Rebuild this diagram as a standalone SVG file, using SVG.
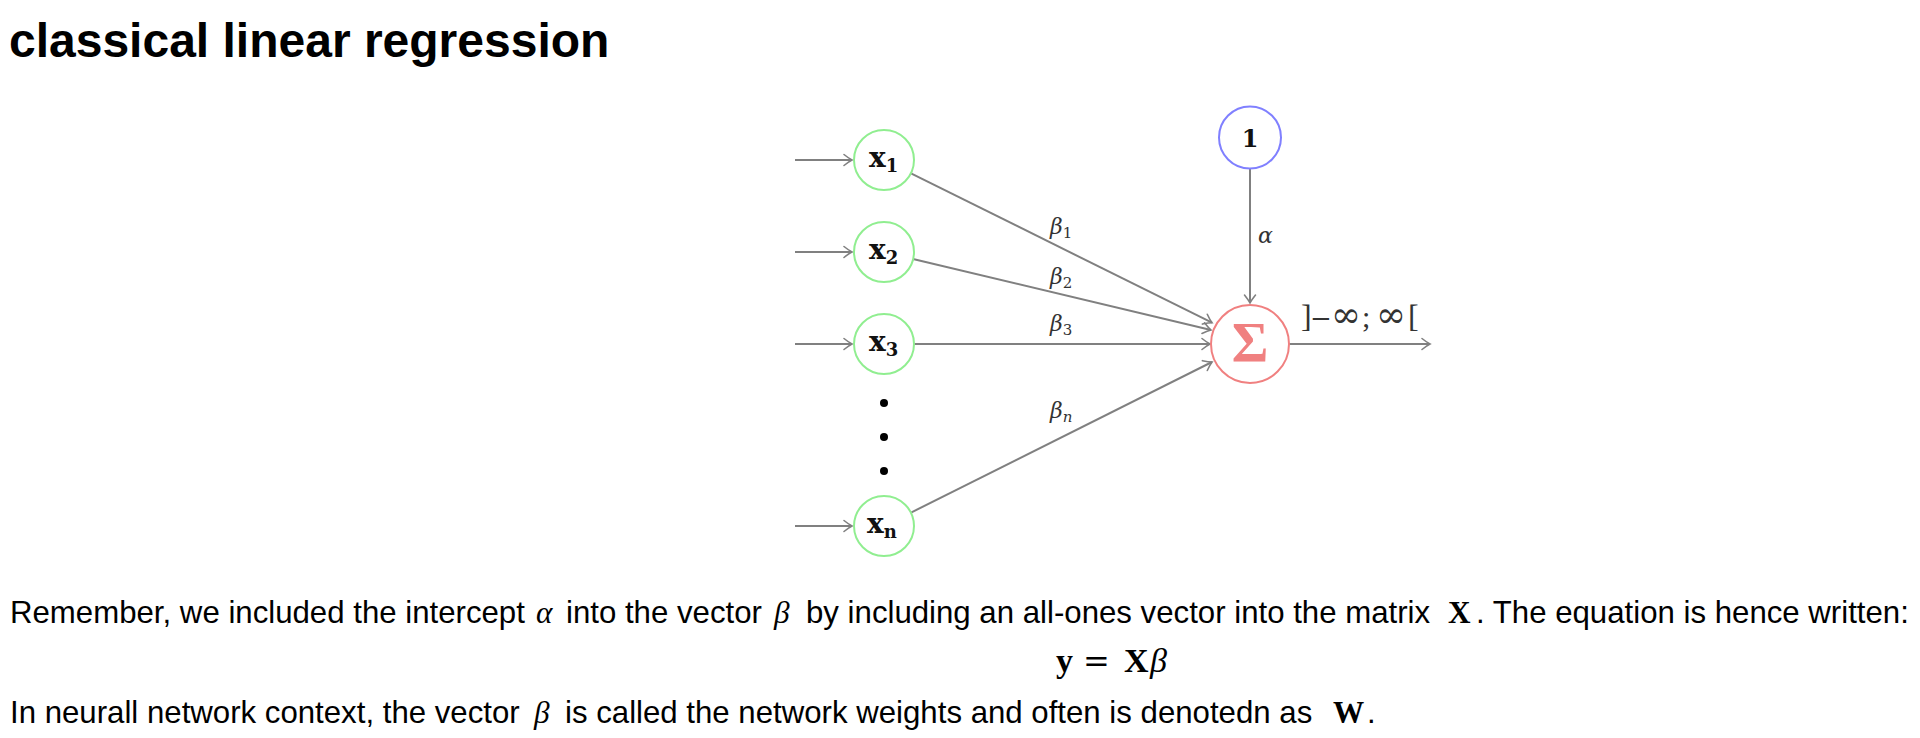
<svg xmlns="http://www.w3.org/2000/svg" width="1920" height="738" viewBox="0 0 1920 738">
<style>
.title{font-family:"Liberation Sans",Arial,sans-serif;font-weight:bold;font-size:48px;fill:#000}
.body{font-family:"Liberation Sans",Arial,sans-serif;font-size:31.2px;fill:#000}
.mi{font-family:"Liberation Serif","Times New Roman",serif;font-style:italic}
.mb{font-family:"Liberation Serif","Times New Roman",serif;font-weight:bold}
.in{fill:#fff;stroke:#90ee90;stroke-width:2}
.bias{fill:#fff;stroke:#8080ff;stroke-width:2}
.sum{fill:#fff;stroke:#f08080;stroke-width:2}
.nl{font-family:"DejaVu Serif",serif;font-weight:bold;fill:#111}
.el{font-family:"DejaVu Serif",serif;font-style:italic;fill:#333;font-size:22px}
.ol{font-family:"DejaVu Serif",serif;fill:#333}
.edge{stroke:#808080;stroke-width:2;fill:none;marker-end:url(#arr)}
</style>
<defs>
<marker id="arr" markerUnits="userSpaceOnUse" markerWidth="14" markerHeight="14" viewBox="-10 -7 12 14" refX="0" refY="0" orient="auto">
<path d="M -8 -5.5 Q -3 -1.5 0 0 Q -3 1.5 -8 5.5" fill="none" stroke="#808080" stroke-width="1.6" stroke-linecap="round"/>
</marker>
</defs>
<rect width="1920" height="738" fill="#fff"/>
<text class="title" x="9" y="57">classical linear regression</text>

<g id="connectors">
<line class="edge" x1="795" y1="160" x2="852" y2="160"/>
<line class="edge" x1="795" y1="252" x2="852" y2="252"/>
<line class="edge" x1="795" y1="344" x2="852" y2="344"/>
<line class="edge" x1="795" y1="526" x2="852" y2="526"/>
<line class="edge" x1="911" y1="173.4" x2="1212" y2="322.7"/>
<line class="edge" x1="913" y1="259" x2="1211" y2="330"/>
<line class="edge" x1="914" y1="344" x2="1210" y2="344"/>
<line class="edge" x1="911" y1="512.6" x2="1212" y2="362"/>
<line class="edge" x1="1250" y1="168.5" x2="1250" y2="303"/>
<line class="edge" x1="1289" y1="344" x2="1430" y2="344"/>
<text class="el" x="1050" y="234">β<tspan font-size="15" font-style="normal" dy="4">1</tspan></text>
<text class="el" x="1050" y="284">β<tspan font-size="15" font-style="normal" dy="4">2</tspan></text>
<text class="el" x="1050" y="331">β<tspan font-size="15" font-style="normal" dy="4">3</tspan></text>
<text class="el" x="1050" y="418">β<tspan font-size="15" dy="4">n</tspan></text>
<text class="el" x="1258" y="243" font-size="24">α</text>
<text class="ol" y="327"><tspan x="1301" font-family="Liberation Serif,serif" font-size="32">]</tspan><tspan x="1310" font-size="26">−</tspan><tspan x="1331" font-size="36">∞</tspan><tspan x="1362" font-family="Liberation Serif,serif" font-size="30">;</tspan><tspan x="1376" font-size="36">∞</tspan><tspan x="1408" font-family="Liberation Serif,serif" font-size="32">[</tspan></text>
</g>

<g id="node-x1"><circle class="in" cx="884" cy="160" r="30"/><text class="nl" x="869" y="167" font-size="28">x<tspan font-size="18" dy="5">1</tspan></text></g>
<g id="node-x2"><circle class="in" cx="884" cy="252" r="30"/><text class="nl" x="869" y="259" font-size="28">x<tspan font-size="18" dy="5">2</tspan></text></g>
<g id="node-x3"><circle class="in" cx="884" cy="344" r="30"/><text class="nl" x="869" y="351" font-size="28">x<tspan font-size="18" dy="5">3</tspan></text></g>
<g id="node-xn"><circle class="in" cx="884" cy="526" r="30"/><text class="nl" x="867" y="533" font-size="28">x<tspan font-size="18" dy="5">n</tspan></text></g>
<g id="dots"><circle cx="884" cy="403" r="4" fill="#000"/><circle cx="884" cy="437" r="4" fill="#000"/><circle cx="884" cy="471" r="4" fill="#000"/></g>
<g id="node-bias"><circle class="bias" cx="1250" cy="137.5" r="31"/><text class="nl" x="1250" y="147" font-size="24" text-anchor="middle">1</text></g>
<g id="node-sum"><circle class="sum" cx="1250" cy="344" r="39"/><text x="1250" y="362" font-family="Liberation Serif,serif" font-weight="bold" font-size="56" fill="#f08080" text-anchor="middle">Σ</text></g>

<g id="caption">
<text class="body" x="10" y="623">Remember, we included the intercept</text>
<text class="body mi" x="536" y="623" font-size="36">α</text>
<text class="body" x="566" y="623">into the vector</text>
<text class="body mi" x="774" y="623" font-size="35">β</text>
<text class="body" x="806" y="623">by including an all-ones vector into the matrix</text>
<text class="body mb" x="1448" y="623" font-size="34">X</text>
<text class="body" x="1476" y="623">. The equation is hence written:</text>
<text class="mb" font-size="34" y="672"><tspan x="1056">y</tspan><tspan x="1083" font-family="DejaVu Serif,serif" font-weight="normal" font-size="32">=</tspan><tspan x="1124">X</tspan><tspan x="1150" class="mi" font-weight="normal">β</tspan></text>
<text class="body" x="10" y="723">In neurall network context, the vector</text>
<text class="body mi" x="534" y="723" font-size="35">β</text>
<text class="body" x="565" y="723">is called the network weights and often is denotedn as</text>
<text class="body mb" x="1333" y="723" font-size="34">W</text>
<text class="body" x="1367" y="723">.</text>
</g>
</svg>
